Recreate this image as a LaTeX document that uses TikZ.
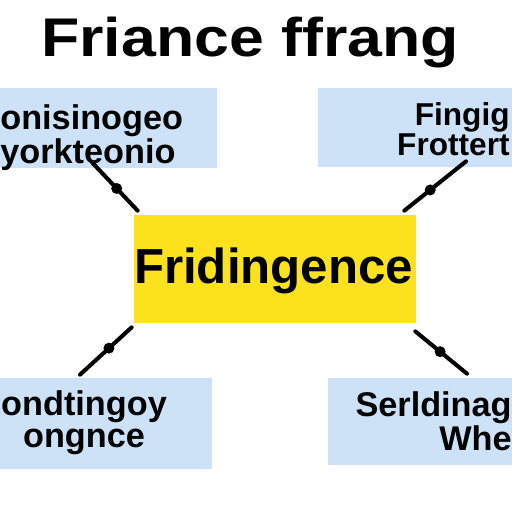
\documentclass[tikz,border=0pt]{standalone}
\usepackage{fontspec}
\setmainfont{Liberation Sans}
\definecolor{azulclaro}{RGB}{205,225,247}
\definecolor{amarillo}{RGB}{252,226,28}

\begin{document}
\begin{tikzpicture}[x=0.02cm, y=-0.02cm,
        caja/.style={rectangle, fill=azulclaro, inner sep=0pt},
        centro/.style={rectangle, fill=amarillo, inner sep=0pt},
        texto/.style={font=\bfseries\fontsize{19.5}{15.5}\selectfont, inner sep=0pt},
        enlace/.style={line width=2.3pt, line cap=round},
        nudo/.style={circle, fill=black, minimum size=0.22cm, inner sep=0pt}
    ]
        % Marco
        \useasboundingbox (0,0) rectangle (512,512);

        % Titulo
        \node[font=\bfseries\fontsize{31}{31}\selectfont, anchor=base] (titulo) at (250,56) {\scalebox{1.15}[1]{Friance ffrang}};

        % Cajas
        \node[caja, minimum width=4.44cm, minimum height=1.6cm] (tl) at (106,128) {};
        \node[caja, minimum width=3.98cm, minimum height=1.58cm] (tr) at (417.5,127.5) {};
        \node[centro, minimum width=5.64cm, minimum height=2.16cm] (c) at (275,269) {};
        \node[caja, minimum width=4.34cm, minimum height=1.82cm] (bl) at (103.5,423.5) {};
        \node[caja, minimum width=3.78cm, minimum height=1.74cm] (br) at (422.5,421.5) {};

        % Textos
        \node[texto, align=left, anchor=north west, font=\bfseries\fontsize{19.5}{13.5}\selectfont] (tltxt) at (0,104) {onisinogeo\\yorkteonio};
        \node[texto, align=right, anchor=north east, font=\bfseries\fontsize{18}{15.5}\selectfont] (trtxt) at (510,102) {Fingig\\Frottert};
        \node[font=\bfseries\fontsize{28}{28}\selectfont, anchor=base] (ctxt) at (273.5,283) {Fridingence};
        \node[texto, align=center, anchor=north] (bltxt) at (84,390) {ondtingoy\\[3pt]ongnce};
        \node[texto, align=right, anchor=north east] (brtxt) at (512,391) {Serldinag\\Whe};

        % Enlaces
        \draw[enlace] ([xshift=-0.28cm, yshift=0.12cm]tl.south) -- node[nudo, pos=0.54] (n1) {} ([xshift=0.08cm, yshift=0.08cm]c.north west);
        \draw[enlace] ([xshift=0.97cm, yshift=0.12cm]tr.south) -- node[nudo, pos=0.58] (n2) {} ([xshift=-0.24cm, yshift=0.08cm]c.north east);
        \draw[enlace] ([xshift=-0.04cm, yshift=-0.08cm]c.south west) -- node[nudo, pos=0.44] (n3) {} ([xshift=-0.47cm, yshift=0.06cm]bl.north);
        \draw[enlace] ([xshift=-0.02cm, yshift=-0.16cm]c.south east) -- node[nudo, pos=0.48] (n4) {} ([xshift=0.89cm, yshift=0.08cm]br.north);
    \end{tikzpicture}
\end{document}
